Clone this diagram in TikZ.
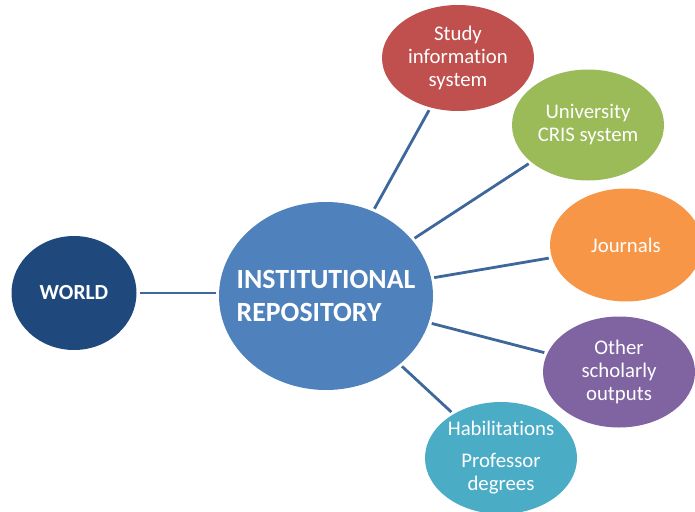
\documentclass[tikz,border=0pt]{standalone}
\usepackage{fontspec}
\setmainfont[Ligatures=NoCommon]{Carlito}
\usepackage{tikz}
\usetikzlibrary{shapes.geometric}

\definecolor{repoblue}{HTML}{4F81BD}
\definecolor{worldblue}{HTML}{1F497D}
\definecolor{studyred}{HTML}{C0504D}
\definecolor{crisgreen}{HTML}{9BBB59}
\definecolor{journorange}{HTML}{F79646}
\definecolor{otherpurple}{HTML}{8064A2}
\definecolor{habteal}{HTML}{4BACC6}
\definecolor{linkblue}{HTML}{3E679C}

\begin{document}
\begin{tikzpicture}[x=1pt,y=-1pt,
  bubble/.style={ellipse, inner sep=0pt, minimum width=152pt, minimum height=111pt,
    text=white, align=center, font=\fontsize{20.8}{23}\selectfont},
  link/.style={draw=linkblue, line width=2.8pt, shorten <=3pt, shorten >=3pt}]
  \useasboundingbox (0,0) rectangle (695,511);

   \draw (326,296) node[bubble, fill=repoblue, minimum width=214pt, minimum height=188pt,
     inner xsep=-20pt, align=left, font=\bfseries\fontsize{27.8}{33}\selectfont] (repo) {INSTITUTIONAL\\REPOSITORY};
    \draw (74,293) node[bubble, fill=worldblue, minimum width=125pt, minimum height=114pt,
     font=\bfseries\fontsize{21.5}{26}\selectfont] (world) {WORLD};
  \draw (458,58) node[bubble, fill=studyred, minimum height=106pt] (study) {Study\\information\\system};
    \draw (588,125) node[bubble, fill=crisgreen] (cris) {University\\CRIS system};
    \draw (626,245) node[bubble, fill=journorange, minimum height=113pt] (journals) {Journals};
    \draw (619,372) node[bubble, fill=otherpurple] (other) {Other\\scholarly\\outputs};
	\draw (501,458) node[bubble, fill=habteal, minimum height=112pt] (habil) {Habilitations\\[9pt]Professor\\degrees};

     \path[link] (world) edge (world -| repo.west);
      \path[link] (repo) edge (study);
     \path[link] (repo) edge (cris);
      \path[link] (repo) edge (journals);
     \path[link] (repo) edge (other);
      \path[link] (repo) edge (habil);

\end{tikzpicture}
\end{document}
